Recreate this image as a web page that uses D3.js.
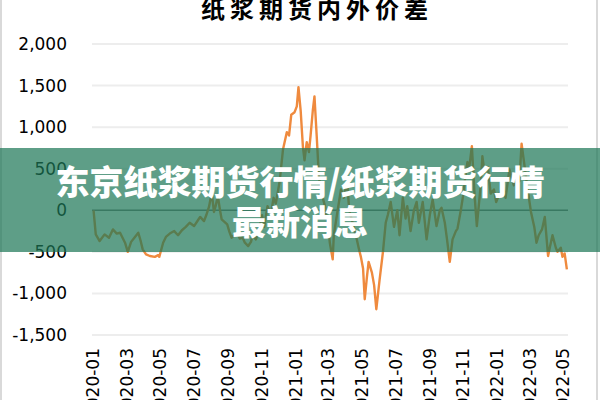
<!DOCTYPE html>
<html><head><meta charset="utf-8">
<script src="https://cdn.jsdelivr.net/npm/d3@7"></script>
<style>html,body{margin:0;padding:0;background:#fff;overflow:hidden}svg{display:block}</style>
</head><body>
<svg id="c" width="600" height="400"></svg>
<script>
const title = "纸浆期货内外价差";
const bannerLines = ["东京纸浆期货行情/纸浆期货行情", "最新消息"];
const xTickLabels = ["2020-01","2020-03","2020-05","2020-07","2020-09","2020-11","2021-01","2021-03","2021-05","2021-07","2021-09","2021-11","2022-01","2022-03","2022-05"];
const yTicks = [-1500,-1000,-500,0,500,1000,1500,2000];
const dates = [
"2020-01-02","2020-01-06","2020-01-13","2020-01-22","2020-01-30","2020-02-06","2020-02-13","2020-02-19","2020-02-28","2020-03-04",
"2020-03-10","2020-03-17","2020-03-23","2020-03-27","2020-03-31","2020-04-06","2020-04-13","2020-04-22","2020-04-28","2020-04-30",
"2020-05-07","2020-05-12","2020-05-19","2020-05-27","2020-06-03","2020-06-10","2020-06-17","2020-06-24","2020-07-02","2020-07-09",
"2020-07-13","2020-07-20","2020-07-24","2020-07-29","2020-08-03","2020-08-07","2020-08-10","2020-08-14","2020-08-18","2020-08-21",
"2020-08-31","2020-09-04","2020-09-08","2020-09-14","2020-09-17","2020-09-23","2020-09-28","2020-10-02","2020-10-08","2020-10-13",
"2020-10-16","2020-10-22","2020-10-27","2020-11-02","2020-11-06","2020-11-12","2020-11-18","2020-11-23","2020-11-27","2020-12-04",
"2020-12-10","2020-12-14","2020-12-17","2020-12-21","2020-12-25","2020-12-31","2021-01-04","2021-01-07","2021-01-11","2021-01-15",
"2021-01-18","2021-01-22","2021-01-26","2021-01-29","2021-02-02","2021-02-05","2021-02-09","2021-02-13","2021-02-18","2021-02-24",
"2021-03-01","2021-03-05","2021-03-10","2021-03-12","2021-03-19","2021-03-25","2021-03-30","2021-04-05","2021-04-09","2021-04-15",
"2021-04-21","2021-04-26","2021-04-30","2021-05-04","2021-05-07","2021-05-11","2021-05-14","2021-05-20","2021-05-24","2021-05-28",
"2021-06-03","2021-06-09","2021-06-14","2021-06-18","2021-06-23","2021-06-29","2021-07-05","2021-07-09","2021-07-15","2021-07-20",
"2021-07-23","2021-07-29","2021-08-04","2021-08-09","2021-08-13","2021-08-20","2021-08-27","2021-09-02","2021-09-07","2021-09-14",
"2021-09-20","2021-09-23","2021-09-29","2021-10-03","2021-10-08","2021-10-13","2021-10-19","2021-10-22","2021-10-28","2021-11-01",
"2021-11-05","2021-11-09","2021-11-12","2021-11-17","2021-11-22","2021-11-26","2021-12-03","2021-12-06","2021-12-10","2021-12-16",
"2021-12-21","2021-12-27","2021-12-31","2022-01-06","2022-01-12","2022-01-17","2022-01-24","2022-02-01","2022-02-07","2022-02-11",
"2022-02-15","2022-02-21","2022-02-25","2022-03-04","2022-03-10","2022-03-14","2022-03-18","2022-03-24","2022-03-29","2022-04-04",
"2022-04-07","2022-04-12","2022-04-18","2022-04-21","2022-04-27","2022-04-30","2022-05-04","2022-05-08"
];
const values = [
0,-290,-370,-290,-330,-230,-280,-270,-390,-500,
-380,-320,-270,-360,-470,-530,-550,-560,-540,-560,
-390,-320,-280,-250,-300,-240,-200,-150,-190,-120,
-80,-130,-60,40,210,-20,50,170,0,-110,
-170,-260,-330,-290,-270,-340,-330,-390,-430,-380,
-300,-350,-250,-60,-200,50,-50,150,80,350,
730,850,940,900,1150,1180,1250,1480,1200,770,
600,820,700,900,1200,1370,900,400,200,50,
-150,-400,-590,-300,0,250,150,350,0,-150,
-300,-450,-560,-700,-1070,-800,-620,-750,-900,-1190,
-830,-500,-150,-50,100,-200,0,-300,150,-100,
50,-250,0,100,-150,100,-350,-50,130,-190,
0,30,-150,-350,-620,-350,-250,-220,0,170,
400,580,500,770,170,-190,300,650,450,520,
200,250,100,200,290,150,490,300,400,350,
800,500,300,-20,-200,-390,-300,-230,-80,-550,
-450,-300,-450,-500,-450,-560,-520,-710
];

const parse = d3.timeParse("%Y-%m-%d");
const parseM = d3.timeParse("%Y-%m");
const data = dates.map((d,i)=>({date:parse(d), value:values[i]}));

const svg = d3.select("#c");
const x = d3.scaleTime().domain([parseM("2020-01"), parseM("2022-05")]).range([93, 563]);
const y = d3.scaleLinear().domain([-1500, 2000]).range([335, 44]);

// frame
svg.append("rect").attr("x",1).attr("y",-10).attr("width",596).attr("height",420)
  .attr("fill","#fff").attr("stroke","#d9d9d9").attr("stroke-width",2);

// title
svg.append("text").attr("x",317).attr("y",18).attr("text-anchor","middle")
  .attr("font-family","'Noto Sans CJK SC'").attr("font-weight","bold").attr("font-size",24)
  .attr("letter-spacing",5).attr("fill","#000").text(title);

// gridlines
svg.append("g").selectAll("line").data(yTicks).join("line")
  .attr("x1",92).attr("x2",568).attr("y1",d=>y(d)).attr("y2",d=>y(d))
  .attr("stroke",d=>d===0?"#808080":"#ededed").attr("stroke-width",d=>d===0?1.5:2);

// y axis
const yAxis = svg.append("g").attr("transform","translate(70,0)")
  .call(d3.axisLeft(y).tickValues(yTicks).tickFormat(d=>d3.format(",")(d).replace("−","-")).tickSize(0).tickPadding(3));
yAxis.select(".domain").remove();
yAxis.selectAll("text").attr("font-family","'DejaVu Sans'").attr("font-size",17).attr("fill","#000");

// x axis
const xAxis = svg.append("g").attr("transform","translate(0,348)")
  .call(d3.axisBottom(x).tickValues(xTickLabels.map(parseM)).tickFormat(d3.timeFormat("%Y-%m")).tickSize(0).tickPadding(0));
xAxis.select(".domain").remove();
xAxis.selectAll("text").attr("font-family","'DejaVu Sans'").attr("font-size",17).attr("fill","#000")
  .attr("transform","rotate(-90)").attr("text-anchor","end").attr("x",0).attr("y",0).attr("dy","0.35em");

// line
const line = d3.line().x(d=>x(d.date)).y(d=>y(d.value));
svg.append("path").datum(data).attr("d",line).attr("fill","none")
  .attr("stroke","#ef8a3e").attr("stroke-width",2.4).attr("stroke-linejoin","round");

// banner overlay
svg.append("rect").attr("x",0).attr("y",148).attr("width",600).attr("height",104)
  .attr("fill","rgb(28,118,86)").attr("opacity",0.71);
svg.append("g").selectAll("text").data(bannerLines).join("text")
  .attr("x",300).attr("y",(d,i)=>195+i*40).attr("text-anchor","middle")
  .attr("font-family","'Noto Sans CJK SC'").attr("font-weight","900").attr("font-size",34)
  .attr("fill","#fff").text(d=>d);
</script>
</body></html>
